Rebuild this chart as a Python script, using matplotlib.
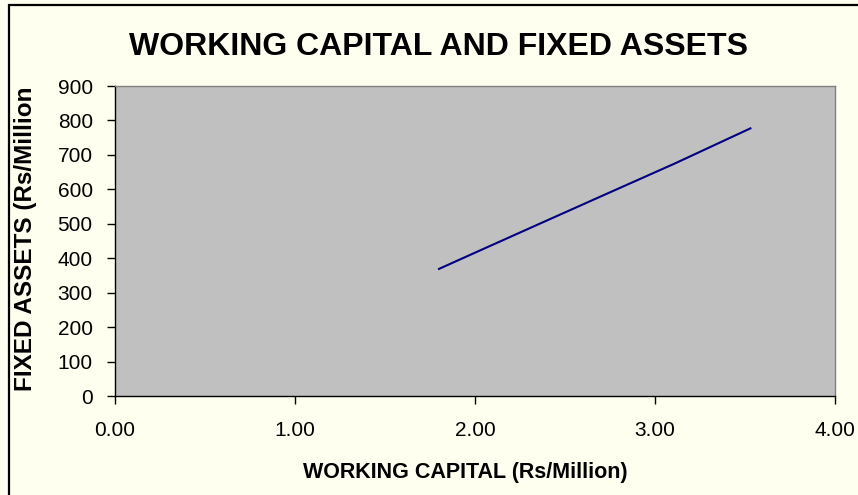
import matplotlib
matplotlib.use("Agg")
import matplotlib.pyplot as plt
from matplotlib.patches import Rectangle

working_capital = [1.80, 1.97, 2.35, 2.74, 3.11, 3.53]
fixed_assets = [369, 409, 498, 589, 675, 777]
x_ticks = [0, 1, 2, 3, 4]
y_ticks = [0, 100, 200, 300, 400, 500, 600, 700, 800, 900]

plt.rcParams['font.family'] = ['Liberation Sans', 'DejaVu Sans']

W, H = 858, 495
fig = plt.figure(figsize=(W / 100, H / 100), dpi=100)
fig.patch.set_facecolor('#FFFFF0')

# outer border (extends beyond right/bottom)
fig.patches.append(Rectangle((8.5 / W, -0.1), 1.2, 1 - 5.5 / H + 0.1, transform=fig.transFigure,
                             fill=False, edgecolor='black', linewidth=1.6, zorder=0))

ax = fig.add_axes([115 / W, 1 - 396 / H, (835 - 115) / W, (396 - 86) / H])
ax.set_facecolor('#C0C0C0')
ax.plot(working_capital, fixed_assets, color='#000080', linewidth=1.5)

ax.set_xlim(0, 4)
ax.set_ylim(0, 900)
ax.set_xticks(x_ticks)
ax.set_xticklabels([f"{v:.2f}" for v in x_ticks])
ax.set_yticks(y_ticks)
ax.set_yticklabels([str(v) for v in y_ticks])
ax.tick_params(direction='out', length=6, width=1, colors='black', labelsize=15)
ax.tick_params(axis='y', pad=10)
ax.tick_params(axis='x', pad=12)

for s in ['top', 'right']:
    ax.spines[s].set_color('#808080')
    ax.spines[s].set_linewidth(1)
for s in ['left', 'bottom']:
    ax.spines[s].set_color('black')
    ax.spines[s].set_linewidth(1)

fig.text(465 / W, 1 - 478 / H, 'WORKING CAPITAL (Rs/Million)', fontsize=15.5,
         fontweight='bold', ha='center', va='baseline')

fig.text(438 / W, 1 - 55 / H, 'WORKING CAPITAL AND FIXED ASSETS', fontsize=23,
         fontweight='bold', ha='center', va='baseline')

ylab = fig.text(32 / W, 1 - 391 / H, 'FIXED ASSETS (Rs/Million)', fontsize=17.5,
                fontweight='bold', rotation=90, rotation_mode='anchor',
                ha='left', va='baseline')
clip = Rectangle((0, 0), 1, 1 - 88 / H, transform=fig.transFigure, visible=False)
fig.patches.append(clip)
ylab.set_clip_path(clip)

fig.savefig('out.png', dpi=100, facecolor=fig.get_facecolor())
